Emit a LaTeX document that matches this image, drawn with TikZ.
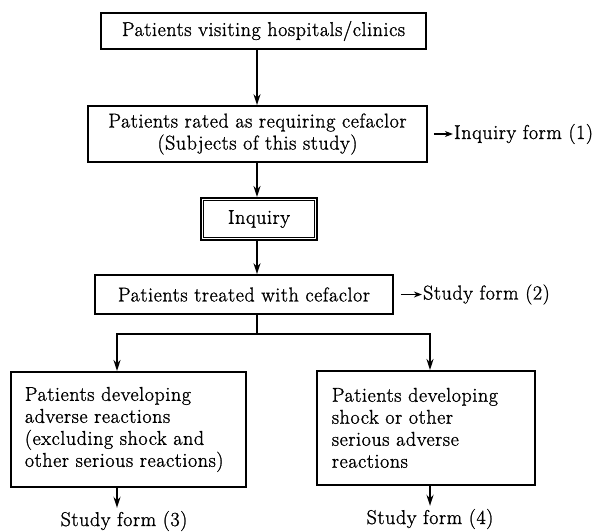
\documentclass[tikz,border=0pt]{standalone}
\usepackage{fontspec}
\setmainfont{Latin Modern Roman}[FakeBold=1.2, LetterSpace=3]
\usepackage{tikz}
\usetikzlibrary{arrows.meta,positioning,calc}

\begin{document}
\begin{tikzpicture}[
  x=1pt, y=-1pt,
  font=\fontsize{20}{22}\selectfont,
  box/.style={draw, line width=1.8pt, align=center, inner sep=0pt},
  textbox/.style={box, align=left, anchor=north west},
  form/.style={inner sep=1pt},
  arrow/.style={-{Stealth[length=11pt, width=7pt]}, line width=1.8pt},
  pointer/.style={-{Stealth[length=8pt, width=6pt]}, line width=1.6pt},
]
  \useasboundingbox (0,0) rectangle (605,532);
  \coordinate (spine) at (257,0);
  \coordinate (split) at (257,334);
  \coordinate (leftfork) at (117,334);
  \coordinate (rightfork) at (430,334);

  \node[box, minimum width=325pt, minimum height=36pt] (visiting) at (263.5,31) {Patients visiting hospitals/clinics};
  \node[box, minimum width=339pt, minimum height=56pt] (rated) at (257.5,134) {Patients rated as requiring cefaclor\\(Subjects of this study)};
  \node[box, line width=2pt, minimum width=116pt, minimum height=42pt] (inquiry) at (259,219) {Inquiry};
  \draw[line width=1pt] ([shift={(3.5pt,-3.5pt)}]inquiry.north west) rectangle ([shift={(-3.5pt,3.5pt)}]inquiry.south east);
  \node[box, minimum width=298pt, minimum height=39pt] (treated) at (244,294.5) {Patients treated with cefaclor};
  \node[textbox, inner xsep=14pt, text width=207pt, minimum height=115pt] (adverse) at (10,371) {Patients developing\\adverse reactions\\(excluding shock and\\other serious reactions)};
  \node[textbox, inner xsep=15pt, text width=188pt, minimum height=114pt] (serious) at (316,370) {Patients developing\\shock or other\\serious adverse\\reactions};

  \node[form, right=25pt of rated] (form1) {Inquiry form (1)};
  \node[form, right=28pt of treated] (form2) {Study form (2)};
  \node[form, anchor=base] (form3) at (124,526) {Study form (3)};
  \node[form, anchor=base] (form4) at (430,524) {Study form (4)};

  \draw[arrow] (visiting.south -| spine) -- (rated.north -| spine);
  \draw[arrow] (rated.south -| spine) -- (inquiry.north -| spine);
  \draw[arrow] (inquiry.south -| spine) -- (treated.north -| spine);
  \draw[line width=1.8pt] (treated.south -| split) -- (split);
  \draw[arrow] (split) -- (leftfork) -- (adverse.north -| leftfork);
  \draw[arrow] (split) -- (rightfork) -- (serious.north -| rightfork);
  \draw[arrow, shorten >=2pt] (adverse.south -| leftfork) -- (form3.north -| leftfork);
  \draw[arrow, shorten >=2pt] (serious.south -| rightfork) -- (form4.north -| rightfork);
  \draw[pointer] ([xshift=6pt]rated.east) -- (form1.west);
  \draw[pointer] ([xshift=7pt]treated.east) -- (form2.west);
\end{tikzpicture}
\end{document}
